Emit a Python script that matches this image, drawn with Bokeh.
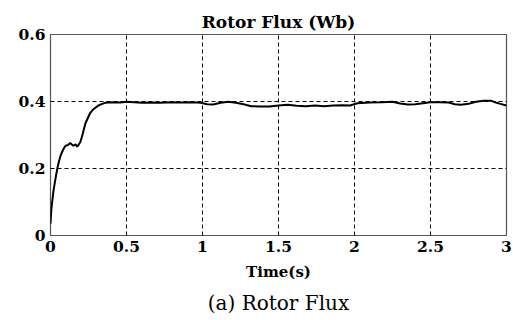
from bokeh.plotting import figure
from bokeh.models import Range1d, FixedTicker, Title
from bokeh.embed import file_html
from bokeh.resources import INLINE

# Data
time_s = [0, 0.005, 0.011, 0.02, 0.033, 0.045, 0.055, 0.066, 0.077, 0.09, 0.1, 0.115,
          0.13, 0.14, 0.15, 0.165, 0.175, 0.187, 0.197, 0.21, 0.22, 0.23, 0.245, 0.26,
          0.28, 0.30, 0.32, 0.34, 0.36, 0.38, 0.42, 0.46, 0.5, 0.55, 0.6, 0.66, 0.72,
          0.8, 0.86, 0.93, 0.99, 1.03, 1.07, 1.12, 1.17, 1.22, 1.27, 1.32, 1.38, 1.44,
          1.5, 1.56, 1.62, 1.68, 1.74, 1.8, 1.86, 1.92, 1.97, 2.02, 2.1, 2.18, 2.25,
          2.3, 2.35, 2.4, 2.45, 2.5, 2.56, 2.62, 2.66, 2.7, 2.75, 2.8, 2.85, 2.9, 2.93,
          2.96, 3.0]
rotor_flux = [0.035, 0.075, 0.10, 0.135, 0.17, 0.20, 0.22, 0.238, 0.25, 0.262, 0.268, 0.27,
              0.276, 0.272, 0.268, 0.272, 0.265, 0.272, 0.28, 0.30, 0.318, 0.335, 0.35, 0.365,
              0.376, 0.383, 0.389, 0.393, 0.396, 0.397, 0.398, 0.397, 0.399, 0.398, 0.396, 0.397, 0.396,
              0.398, 0.397, 0.398, 0.396, 0.392, 0.391, 0.396, 0.399, 0.396, 0.392, 0.386, 0.385, 0.385,
              0.388, 0.39, 0.387, 0.386, 0.388, 0.386, 0.388, 0.389, 0.388, 0.395, 0.397, 0.398, 0.399,
              0.394, 0.391, 0.392, 0.395, 0.398, 0.398, 0.397, 0.392, 0.39, 0.393, 0.399, 0.402, 0.402, 0.397,
              0.393, 0.388]

x_ticks = [0, 0.5, 1, 1.5, 2, 2.5, 3]
x_tick_labels = ["0", "0.5", "1", "1.5", "2", "2.5", "3"]
y_ticks = [0, 0.2, 0.4, 0.6]
y_tick_labels = ["0", "0.2", "0.4", "0.6"]

SERIF = "DejaVu Serif"

p = figure(width=513, height=320, output_backend="svg", toolbar_location=None,
           x_range=Range1d(0, 3), y_range=Range1d(0, 0.6),
           min_border_left=50, min_border_right=7, min_border_top=34, min_border_bottom=85)
p.background_fill_color = "white"
p.border_fill_color = "white"
p.outline_line_color = "#555555"
p.outline_line_width = 1.2

p.title.text = "Rotor Flux (Wb)"
p.title.align = "center"
p.title.text_font = SERIF
p.title.text_font_style = "bold"
p.title.text_font_size = "17px"
p.title.text_color = "black"
p.title.standoff = 6

p.line(time_s, rotor_flux, line_color="black", line_width=2)

for ax in (p.xaxis[0], p.yaxis[0]):
    ax.axis_line_color = None
    ax.major_tick_line_color = None
    ax.minor_tick_line_color = None
    ax.major_tick_out = 0
    ax.major_tick_in = 0
    ax.minor_tick_out = 0
    ax.major_label_text_font = SERIF
    ax.major_label_text_font_style = "bold"
    ax.major_label_text_font_size = "15.5px"
    ax.major_label_text_color = "black"

p.xaxis.ticker = FixedTicker(ticks=x_ticks)
p.xaxis.major_label_overrides = {t: l for t, l in zip(x_ticks, x_tick_labels)}
p.yaxis.ticker = FixedTicker(ticks=y_ticks)
p.yaxis.major_label_overrides = {t: l for t, l in zip(y_ticks, y_tick_labels)}
p.yaxis.major_label_standoff = 5
p.xaxis.major_label_standoff = 5

p.xaxis.axis_label = "Time(s)"
p.xaxis.axis_label_text_font = SERIF
p.xaxis.axis_label_text_font_style = "bold"
p.xaxis.axis_label_text_font_size = "15px"
p.xaxis.axis_label_text_color = "black"
p.xaxis.axis_label_standoff = 8

for g in (p.xgrid[0], p.ygrid[0]):
    g.grid_line_color = "black"
    g.grid_line_dash = "4 3"
    g.grid_line_width = 1

cap = Title(text="(a) Rotor Flux", align="center", text_font=SERIF,
            text_font_style="normal", text_font_size="20px", text_color="black",
            standoff=10)
p.add_layout(cap, "below")

open("out.html", "w").write(file_html(p, INLINE))
